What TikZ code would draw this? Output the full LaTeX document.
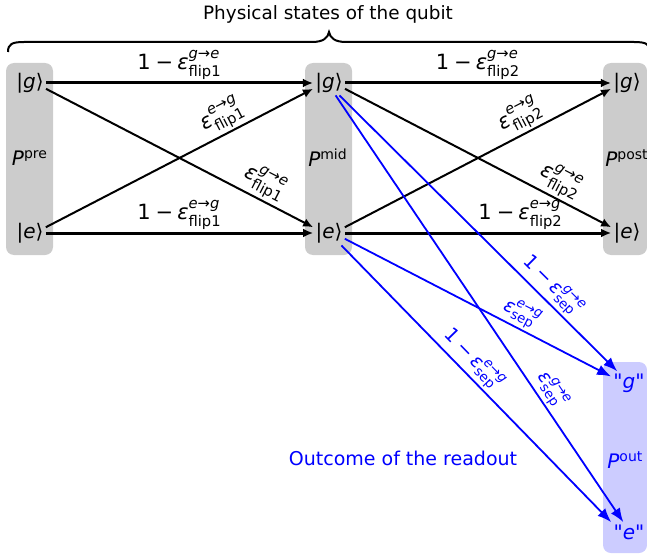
\documentclass[tikz,border=0pt]{standalone}
\usepackage{amsmath}
\usepackage{fontspec}
\setmainfont{DejaVu Sans}[Ligatures=TeXOff]
\usetikzlibrary{arrows.meta}
\definecolor{boxG}{RGB}{204,204,204}
\definecolor{boxB}{RGB}{204,204,255}
\newcommand{\ket}[1]{|\textit{#1}⟩}
\newcommand{\eps}[3]{\textit{ε}$^{\text{\textit{#1}→\textit{#2}}}_{\text{#3}}$}
\newcommand{\onem}{1\kern2.5pt−\kern2pt}

\begin{document}
\begin{tikzpicture}[x=0.5pt,y=-0.5pt,>={Latex[length=5pt,width=4.4pt]},
  lvl/.style={font=\fontsize{10}{12}\selectfont,inner sep=1pt},
  plab/.style={font=\fontsize{10}{12}\selectfont,inner sep=1pt},
  lbl/.style={font=\fontsize{10.5}{12}\selectfont,inner sep=1pt},
  seplbl/.style={font=\fontsize{9.5}{11}\selectfont,inner sep=1pt,blue},
  rd/.style={->,blue,line width=0.9pt,>={Latex[length=7pt,width=5.4pt]}}]
\useasboundingbox (0,0) rectangle (647,556);
% boxes
\fill[boxG,rounded corners=4pt] (6,63) rectangle (53,255);
\fill[boxG,rounded corners=4pt] (305,63) rectangle (352,255);
\fill[boxG,rounded corners=4pt] (603,63) rectangle (647,255);
\fill[boxB,rounded corners=4pt] (603,362) rectangle (647,553);
% brace
\draw[line width=1pt] (8,52) .. controls (8,44) and (12,42) .. (24,42) -- (312,42)
  .. controls (323,42) and (328,38) .. (329,32) .. controls (330,38) and (335,42) .. (346,42)
  -- (634,42) .. controls (646,42) and (650,44) .. (650,52);
\node[font=\fontsize{9.2}{11}\selectfont] (title) at (328,14) {Physical states of the qubit};
% states
\node[lvl] (pg) at (30,83) {\ket{g}};
\node[lvl] (pe) at (30,233) {\ket{e}};
\node[lvl] (mg) at (329,83) {\ket{g}};
\node[lvl] (me) at (329,233) {\ket{e}};
\node[lvl] (qg) at (627,83) {\ket{g}};
\node[lvl] (qe) at (627,233) {\ket{e}};
\node[lvl,blue] (og) at (629,383) {"\textit{g}"};
\node[lvl,blue] (oe) at (629,532) {"\textit{e}"};
\node[plab] (ppre) at (30,158) {\textit{P}$^{\text{pre}}$};
\node[plab] (pmid) at (328,158) {\textit{P}$^{\text{mid}}$};
\node[plab,anchor=west] (ppost) at (603,158) {\textit{P}$^{\text{post}}$};
\node[plab,anchor=west,blue] (pout) at (605,460) {\textit{P}$^{\text{out}}$};
\node[font=\fontsize{9.5}{11}\selectfont,blue] (readout) at (403,458) {Outcome of the readout};
% first flip
\draw[->,line width=1.5pt] (pg.east) -- node[lbl,above] {\onem\eps{g}{e}{flip1}} (mg.west);
\draw[->,line width=1pt] (pe.20) -- node[lbl,above,sloped,pos=0.69] {\eps{e}{g}{flip1}} (mg.-160);
\draw[->,line width=1pt] (pg.-20) -- node[lbl,above,sloped,pos=0.79] {\eps{g}{e}{flip1}} (me.160);
\draw[->,line width=1.5pt] (pe.east) -- node[lbl,above] {\onem\eps{e}{g}{flip1}} (me.west);
% second flip
\draw[->,line width=1.5pt] (mg.east) -- node[lbl,above] {\onem\eps{g}{e}{flip2}} (qg.west);
\draw[->,line width=1pt] (me.20) -- node[lbl,above,sloped,pos=0.69] {\eps{e}{g}{flip2}} (qg.-160);
\draw[->,line width=1pt] (mg.-20) -- node[lbl,above,sloped,pos=0.78] {\eps{g}{e}{flip2}} (qe.160);
\draw[->,line width=1.5pt] (me.east) -- node[lbl,above,pos=0.66] {\onem\eps{e}{g}{flip2}} (qe.west);
% readout
\draw[rd] (mg.-50) -- node[seplbl,above,sloped,pos=0.73] {\onem\eps{g}{e}{sep}} (og.135);
\draw[rd] (me.-20) -- node[seplbl,above,sloped,pos=0.64] {\eps{e}{g}{sep}} (og.160);
\draw[rd] (me.-45) -- node[seplbl,above,sloped,pos=0.45] {\onem\eps{e}{g}{sep}} (oe.north west);
\draw[rd] (mg.-62) -- node[seplbl,above,sloped,pos=0.71] {\eps{g}{e}{sep}} (oe.120);
\end{tikzpicture}
\end{document}
